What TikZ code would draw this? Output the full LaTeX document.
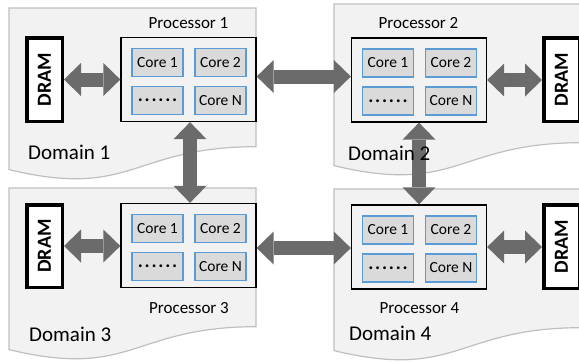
\documentclass[tikz,border=0pt]{standalone}
\usepackage{fontspec}
\setmainfont{Carlito}
\usepackage{graphicx}
\usetikzlibrary{arrows.meta,calc}
\definecolor{domfill}{HTML}{F2F2F2}
\definecolor{domline}{HTML}{BFBFBF}
\definecolor{corefill}{HTML}{DADADA}
\definecolor{coreline}{HTML}{5B9BD5}
\definecolor{arrgray}{HTML}{6B6B6B}
\begin{document}
\begin{tikzpicture}[x=1pt,y=-1pt,
  domshape/.style={fill=domfill,draw=domline,line width=1.2pt},
  procbox/.style={draw=black,fill=domfill,line width=1.3pt,minimum width=135pt,minimum height=84pt,inner sep=0pt},
  corebox/.style={draw=coreline,fill=corefill,line width=1.2pt,minimum width=51pt,minimum height=28pt,inner sep=0pt,font=\fontsize{15.5}{18}\selectfont},
  drambox/.style={draw=black,fill=white,line width=3.5pt,minimum width=35.5pt,minimum height=83.5pt,inner sep=0pt,font=\fontsize{20}{24}\selectfont\bfseries},
  proclabel/.style={font=\fontsize{17}{20}\selectfont,inner sep=0pt},
  domlabel/.style={font=\fontsize{21}{25}\selectfont,inner sep=0pt,anchor=west},
  biarrow/.style={draw=arrgray,line width=14pt,{Triangle[width=33pt,length=17pt,line width=0pt]}-{Triangle[width=33pt,length=17pt,line width=0pt]}},
]
\useasboundingbox (0,0) rectangle (579,362);
\clip (0,0) rectangle (579,362);

% domains
\draw[domshape] (9,8) -- (256,8) -- (256,146.7) .. controls (132.5,146.7) and (132.5,199.5) .. (9,169.6) -- cycle;
\draw[domshape] (334,4) -- (581,4) -- (581,142.7) .. controls (457.5,142.7) and (457.5,195.5) .. (334,165.6) -- cycle;
\draw[domshape] (9,188) -- (256,188) -- (256,326.7) .. controls (132.5,326.7) and (132.5,379.5) .. (9,349.6) -- cycle;
\draw[domshape] (334,189) -- (581,189) -- (581,327.7) .. controls (457.5,327.7) and (457.5,380.5) .. (334,350.6) -- cycle;

% processors
\node[procbox] (p1) at (188.5,79.5) {};
\node[procbox] (p2) at (419,80) {};
\node[procbox] (p3) at (188.5,245.5) {};
\node[procbox] (p4) at (419,247) {};

\foreach \p in {p1,p2,p3,p4}{
  \node[corebox] (\p c1) at ($(\p)+(-31,-17)$) {Core 1};
  \node[corebox] (\p c2) at ($(\p)+(32,-17)$) {Core 2};
  \node[corebox,font=\fontsize{19}{20}\selectfont\bfseries] (\p cd) at ($(\p)+(-31,21)$) {.\kern1.8pt.\kern1.8pt.\kern1.8pt.\kern1.8pt.\kern1.8pt.};
  \node[corebox] (\p cn) at ($(\p)+(32,21)$) {Core N};
}

% DRAM
\node[drambox] (d1) at (44.5,79.5) {\rotatebox{90}{DRAM}};
\node[drambox] (d2) at (561.5,79.5) {\rotatebox{90}{DRAM}};
\node[drambox,minimum height=82.5pt] (d3) at (44.5,246) {\rotatebox{90}{DRAM}};
\node[drambox] (d4) at (561.5,246.5) {\rotatebox{90}{DRAM}};

% arrows
\draw[biarrow] (d1.east) -- (d1.east -| p1.west);
\draw[biarrow] (p2.east) -- (p2.east -| d2.west);
\draw[biarrow] (d3.east) -- (d3.east -| p3.west);
\draw[biarrow] (p4.east) -- (p4.east -| d4.west);
\draw[biarrow] ([yshift=3pt]p1.east) -- ([yshift=3pt]p1.east -| p2.west);
\draw[biarrow] ([yshift=-2.5pt]p3.east) -- ([yshift=-2.5pt]p3.east -| p4.west);
\draw[biarrow] ([xshift=1.5pt]p1.south) -- ([xshift=1.5pt]p1.south |- p3.north);
\draw[biarrow] (p2.south) -- (p2.south |- p4.north);

% labels
\node[proclabel] (l1) at (188.5,23) {Processor 1};
\node[proclabel] (l2) at (418.5,23) {Processor 2};
\node[proclabel] (l3) at (189,308) {Processor 3};
\node[proclabel] (l4) at (419.5,308) {Processor 4};
\node[domlabel] (n1) at (28,152) {Domain 1};
\node[domlabel] (n2) at (348,153) {Domain 2};
\node[domlabel] (n3) at (29,334) {Domain 3};
\node[domlabel] (n4) at (349,333) {Domain 4};
\end{tikzpicture}
\end{document}
